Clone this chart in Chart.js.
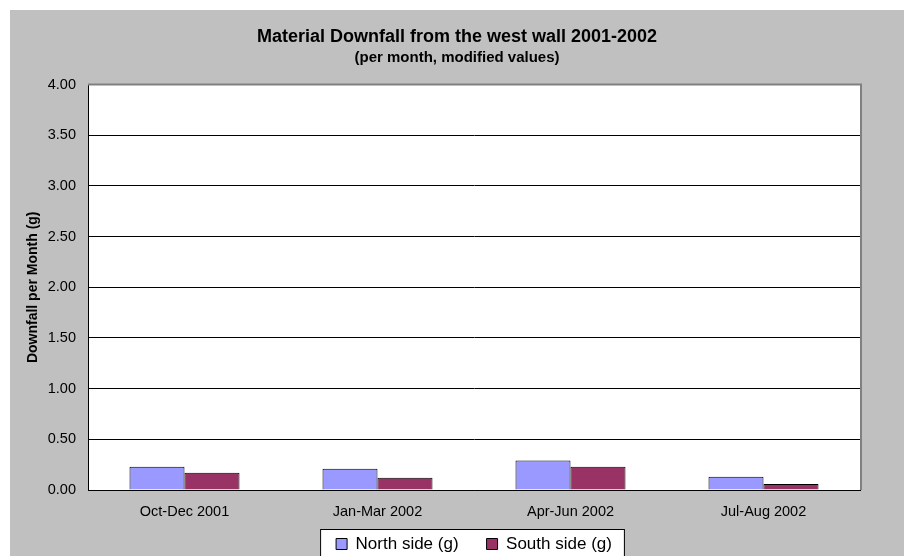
<!DOCTYPE html>
<html>
<head>
<meta charset="utf-8">
<script src="https://cdn.jsdelivr.net/npm/chart.js@4/dist/chart.umd.min.js"></script>
<style>
  html, body { margin: 0; padding: 0; background: #fff; overflow: hidden; }
  #wrap { position: absolute; left: 10px; top: 10px; width: 894px; height: 600px; background: #c0c0c0; }
</style>
</head>
<body>
<div id="wrap"><canvas id="myChart" width="894" height="600"></canvas></div>
<script>
var periods = ['Oct-Dec 2001', 'Jan-Mar 2002', 'Apr-Jun 2002', 'Jul-Aug 2002'];
var northSide = [0.23, 0.21, 0.29, 0.13];
var southSide = [0.17, 0.12, 0.23, 0.06];

Chart.defaults.font.family = '"Liberation Sans", Arial, sans-serif';
Chart.defaults.color = '#000';

// white plot area, grey frame on top/right, framed legend box
var plotFrame = {
    id: 'plotFrame',
    beforeDraw: function(chart) {
        var c = chart.ctx, a = chart.chartArea;
        c.save();
        c.fillStyle = '#fff';
        c.fillRect(a.left, a.top, a.right - a.left, a.bottom - a.top);

        var hb = chart.legend.legendHitBoxes;
        if (hb && hb.length) {
            var first = hb[0], last = hb[hb.length - 1];
            var mid = first.top + first.height / 2;
            var x0 = first.left - 16, x1 = last.left + last.width + 12;
            var y0 = mid - 15;
            c.fillStyle = '#fff';
            c.fillRect(x0, y0, x1 - x0, 100);
            c.strokeStyle = '#000';
            c.lineWidth = 1;
            c.strokeRect(x0 + 0.5, y0 + 0.5, x1 - x0, 100);
        }
        c.restore();
    },
    afterDatasetsDraw: function(chart) {
        var c = chart.ctx, a = chart.chartArea;
        c.save();
        c.strokeStyle = '#808080';
        c.lineWidth = 2;
        c.beginPath();
        c.moveTo(a.left, a.top);
        c.lineTo(a.right + 1, a.top);
        c.lineTo(a.right + 1, a.bottom);
        c.stroke();
        c.restore();
    }
};

var ctx = document.getElementById('myChart').getContext('2d');
var myChart = new Chart(ctx, {
    type: 'bar',
    data: {
        labels: periods,
        datasets: [{
            label: 'North side (g)',
            data: northSide,
            backgroundColor: '#9999ff',
            borderColor: '#000',
            borderWidth: 1,
            categoryPercentage: 0.57,
            barPercentage: 1
        }, {
            label: 'South side (g)',
            data: southSide,
            backgroundColor: '#993366',
            borderColor: '#000',
            borderWidth: 1,
            categoryPercentage: 0.57,
            barPercentage: 1
        }]
    },
    options: {
        responsive: false,
        animation: false,
        layout: { padding: { left: 0, right: 0, top: 0, bottom: 47.5 } },
        plugins: {
            title: {
                display: true,
                text: 'Material Downfall from the west wall 2001-2002',
                font: { size: 18, weight: 'bold' },
                padding: { top: 16, bottom: 0 }
            },
            subtitle: {
                display: true,
                text: '(per month, modified values)',
                font: { size: 15, weight: 'bold' },
                padding: { top: 1, bottom: 18 }
            },
            legend: {
                position: 'bottom',
                fullSize: false,
                labels: {
                    boxWidth: 11,
                    boxHeight: 11,
                    padding: 28,
                    font: { size: 17 }
                }
            },
            tooltip: { enabled: false }
        },
        scales: {
            x: {
                grid: { drawOnChartArea: false, drawTicks: false },
                border: { color: '#000', width: 1 },
                // mirrored so the labels are not clipped to the thin axis box
                ticks: { mirror: true, padding: -30.5, font: { size: 14.5 } },
                afterFit: function(s) { s.height = 17.5; }
            },
            y: {
                min: 0,
                max: 4,
                ticks: {
                    stepSize: 0.5,
                    padding: 12,
                    font: { size: 14.5 },
                    callback: function(value) { return value.toFixed(2); }
                },
                grid: {
                    drawTicks: false,
                    color: function(c) { return c.tick && c.tick.value === 4 ? '#808080' : '#000'; }
                },
                border: { color: '#000', width: 1 },
                title: {
                    display: true,
                    text: 'Downfall per Month (g)',
                    font: { size: 14, weight: 'bold' },
                    padding: { top: 15, bottom: 0 }
                },
                afterFit: function(s) { s.width = 78; }
            },
            // empty right-hand axis keeps the gap to the right edge
            y2: {
                position: 'right',
                display: true,
                grid: { display: false },
                border: { display: false },
                ticks: { display: false },
                afterFit: function(s) { s.width = 44; }
            }
        }
    },
    plugins: [plotFrame]
});
</script>
</body>
</html>
